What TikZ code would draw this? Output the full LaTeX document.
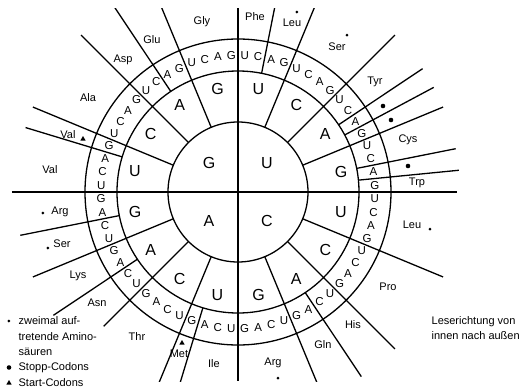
\documentclass[tikz,border=0pt]{standalone}
\usepackage{fontspec}
\setmainfont{Liberation Sans}
\usetikzlibrary{shapes.geometric}

\begin{document}
\begin{tikzpicture}[x=1pt, y=1pt, line width=1.3pt,
    base/.style={font=\fontsize{16}{16}\selectfont, inner sep=0pt},
    third/.style={font=\fontsize{11.5}{12}\selectfont, inner sep=0pt},
    amino/.style={font=\fontsize{11}{12}\selectfont, inner sep=0pt},
    note/.style={font=\fontsize{11}{12}\selectfont, anchor=west, inner sep=0pt},
    twice/.style={circle, fill, inner sep=0pt, minimum size=3pt},
    stopcodon/.style={circle, fill, inner sep=0pt, minimum size=4.6pt},
    startcodon/.style={regular polygon, regular polygon sides=3, fill,
      inner sep=0pt, minimum size=6pt}]
  \useasboundingbox (-238,-197) rectangle (293,192);
  % rings: first base, second base, third base
  \draw (0,0) circle[radius=70];
  \draw (0,0) circle[radius=121];
  \draw (0,0) circle[radius=153];
  % the two axes run right through
  \draw (-226,0) -- (219,0);
  \draw (0,184) -- (0,-189);
  % spokes, cut off at top and bottom edge
  \begin{scope}
    \clip (-240,184) rectangle (300,-189);
    % borders of the second base, from the inner circle
    \foreach \t in {22.5,45,67.5,112.5,135,157.5,202.5,247.5,292.5,315,337.5}
      \draw ({90-\t}:70) -- ({90-\t}:222);
    % borders between amino acids inside one box, from the middle circle
    \foreach \t in {11.25,56.25,61.875,78.75,84.375,146.25,196.875,236.25,258.75,286.875,326.25}
      \draw ({90-\t}:121) -- ({90-\t}:222);
  \end{scope}
  % shorter one, stops above the legend
  \draw ({90-225}:70) -- ({90-225}:190);
  % first base
  \foreach \b/\a in {U/45, C/-45, A/-135, G/135}
    \node[base] (f-\b) at (\a:41) {\b};
  % second and third base, clockwise U C A G in every quadrant
  \foreach \q in {0,90,180,270}
    \foreach \b [count=\j from 0] in {U,C,A,G} {
      \node[base] (s-\q-\j) at ({90-\q-22.5*\j-11.25}:105) {\b};
      \foreach \c [count=\k from 0] in {U,C,A,G}
        \node[third] (t-\q-\j-\k) at ({90-\q-22.5*\j-5.625*\k-2.8125}:137) {\c};
    }
  % amino acids, U quadrant
  \node[amino] (phe) at (17,175) {Phe};
  \node[amino] (leu1) at (54,169) {Leu};
  \node[twice] (leu1m) at (59,180) {};
  \node[amino] (ser1) at (99,145) {Ser};
  \node[twice] (ser1m) at (109,157) {};
  \node[amino] (tyr) at (137,110) {Tyr};
  \node[stopcodon] (uaa) at (145,86) {};
  \node[stopcodon] (uag) at (153,72) {};
  \node[amino] (cys) at (170,52) {Cys};
  \node[stopcodon] (uga) at (170,26) {};
  \node[amino] (trp) at (179,9) {Trp};
  % C quadrant
  \node[amino] (leu2) at (174,-33) {Leu};
  \node[twice] (leu2m) at (192,-37) {};
  \node[amino] (pro) at (150,-95) {Pro};
  \node[amino] (his) at (115,-133) {His};
  \node[amino] (gln) at (85,-153) {Gln};
  \node[amino] (arg1) at (35,-171) {Arg};
  \node[twice] (arg1m) at (40,-186) {};
  % A quadrant
  \node[amino] (ile) at (-24,-172) {Ile};
  \node[amino] (met) at (-59,-162) {Met};
  \node[startcodon] (aug) at (-56,-151) {};
  \node[amino] (thr) at (-101,-145) {Thr};
  \node[amino] (asn) at (-141,-111) {Asn};
  \node[amino] (lys) at (-160,-84) {Lys};
  \node[amino] (ser2) at (-176,-52) {Ser};
  \node[twice] (ser2m) at (-190,-56) {};
  \node[amino] (arg2) at (-178,-20) {Arg};
  \node[twice] (arg2m) at (-195,-21) {};
  % G quadrant
  \node[amino] (val1) at (-188,22) {Val};
  \node[amino] (val2) at (-170,57) {Val};
  \node[startcodon] (gug) at (-155,53) {};
  \node[amino] (ala) at (-150,94) {Ala};
  \node[amino] (asp) at (-115,132) {Asp};
  \node[amino] (glu) at (-86,152) {Glu};
  \node[amino] (gly) at (-36,170) {Gly};
  % legend
  \node[twice] (key1) at (-229,-129) {};
  \node[note] (key1t) at (-220,-129) {zweimal auf-};
  \node[note] (key1u) at (-220,-144.5) {tretende Amino-};
  \node[note] (key1v) at (-220,-160) {säuren};
  \node[stopcodon] (key2) at (-229,-175.5) {};
  \node[note] (key2t) at (-220,-175.5) {Stopp-Codons};
  \node[startcodon] (key3) at (-229,-191) {};
  \node[note] (key3t) at (-220,-191) {Start-Codons};
  % reading direction
  \node[note] (read1) at (193,-130) {Leserichtung von};
  \node[note] (read2) at (193,-144) {innen nach außen};
\end{tikzpicture}
\end{document}
